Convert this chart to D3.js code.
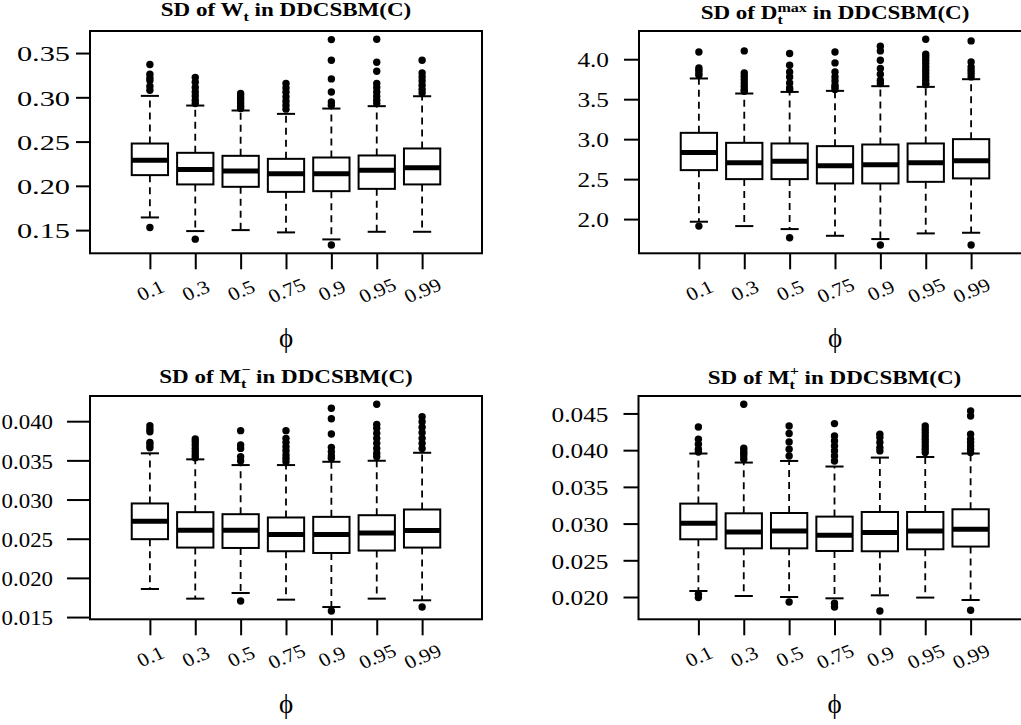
<!DOCTYPE html>
<html><head><meta charset="utf-8">
<script src="https://cdn.jsdelivr.net/npm/d3@7/dist/d3.min.js"></script>
<style>body{margin:0;background:#fff}svg{display:block}</style>
</head><body>
<svg id="chart" width="1021" height="725"></svg>
<script>
// ---------------- data ----------------
const categories = ["0.1","0.3","0.5","0.75","0.9","0.95","0.99"];

// five-number boxes: [lower whisker, Q1, median, Q3, upper whisker]
const wtStats = [
  [0.1643,0.2121,0.2290,0.2478,0.3016],
  [0.1489,0.2016,0.2185,0.2373,0.2907],
  [0.1500,0.1989,0.2169,0.2339,0.2851],
  [0.1474,0.1932,0.2136,0.2305,0.2813],
  [0.1395,0.1940,0.2136,0.2320,0.2873],
  [0.1481,0.1966,0.2177,0.2343,0.2900],
  [0.1481,0.2016,0.2203,0.2422,0.3012]
];
const wtOutliers = [
  [0.153,0.308,0.3125,0.319,0.322,0.326,0.337],
  [0.1398,0.293,0.2967,0.3016,0.306,0.311,0.317,0.3223],
  [0.2873,0.290,0.293,0.296,0.2986,0.3016,0.3043],
  [0.2866,0.2911,0.2956,0.3005,0.3058,0.3106,0.3156],
  [0.1331,0.2911,0.2948,0.306,0.3208,0.3419,0.3652],
  [0.293,0.2967,0.3012,0.306,0.311,0.3156,0.3295,0.3396,0.3656],
  [0.305,0.3088,0.3137,0.3185,0.323,0.3275,0.3419]
];
const wtTicks = [0.15,0.20,0.25,0.30,0.35];

const dmaxStats = [
  [1.967,2.6125,2.834,3.079,3.759],
  [1.9125,2.500,2.704,2.954,3.571],
  [1.875,2.500,2.725,2.946,3.591],
  [1.791,2.446,2.666,2.9125,3.604],
  [1.750,2.446,2.679,2.933,3.6625],
  [1.821,2.466,2.704,2.946,3.654],
  [1.829,2.509,2.729,3.000,3.750]
];
const dmaxOutliers = [
  [1.9125,3.80,3.829,3.8625,3.891,4.091],
  [3.60,3.621,3.6625,3.704,3.746,3.7875,3.829,4.104],
  [1.766,3.62,3.641,3.704,3.779,3.841,3.925,4.071],
  [3.621,3.65,3.675,3.729,3.779,3.841,3.954,4.091],
  [1.675,3.696,3.7375,3.8125,3.884,3.9875,4.104,4.1625],
  [3.68,3.696,3.7375,3.779,3.821,3.8625,3.904,3.946,3.9875,4.029,4.0625,4.25],
  [1.675,3.779,3.821,3.8625,3.904,3.966,4.229]
];
const dmaxTicks = [2.0,2.5,3.0,3.5,4.0];

const mMinusStats = [
  [0.01858,0.02494,0.02724,0.02950,0.03590],
  [0.01735,0.02387,0.02609,0.02839,0.03513],
  [0.01807,0.02382,0.02609,0.02813,0.03440],
  [0.01722,0.02340,0.02554,0.02771,0.03440],
  [0.01628,0.02318,0.02554,0.02779,0.03482],
  [0.01735,0.02349,0.02574,0.02800,0.03495],
  [0.01714,0.02387,0.02605,0.02873,0.03597]
];
const mMinusOutliers = [
  [0.03661,0.03696,0.0373,0.03866,0.039,0.03943],
  [0.03533,0.03568,0.0361,0.03653,0.03696,0.03738,0.03772],
  [0.01705,0.03491,0.03546,0.03653,0.03696,0.03879],
  [0.03482,0.03526,0.03568,0.03623,0.03674,0.0373,0.03781,0.03879],
  [0.01577,0.03526,0.03555,0.0361,0.03666,0.03836,0.04032,0.04165],
  [0.03546,0.0359,0.03653,0.03717,0.03781,0.03845,0.03909,0.0396,0.04216],
  [0.01628,0.03653,0.03717,0.03781,0.03853,0.03922,0.03994,0.04058]
];
const mMinusTicks = [0.015,0.020,0.025,0.030,0.035,0.040];

const mPlusStats = [
  [0.02082,0.02786,0.03004,0.03272,0.03954],
  [0.02014,0.02663,0.02886,0.03140,0.03831],
  [0.02000,0.02663,0.02899,0.03144,0.03853],
  [0.01982,0.02627,0.02841,0.03095,0.03777],
  [0.02023,0.02623,0.02877,0.03158,0.03899],
  [0.01992,0.02650,0.02899,0.03158,0.03907],
  [0.01959,0.02687,0.02922,0.03195,0.03954]
];
const mPlusOutliers = [
  [0.01992,0.02037,0.03976,0.04012,0.0408,0.04149,0.04316],
  [0.03876,0.03921,0.03958,0.0399,0.04026,0.04625],
  [0.01932,0.03921,0.04012,0.04112,0.04226,0.0433],
  [0.01864,0.01914,0.03853,0.03921,0.0399,0.04057,0.04126,0.04193,0.04362],
  [0.01809,0.0399,0.04035,0.04104,0.04172,0.04217],
  [0.03967,0.04012,0.04057,0.04104,0.04149,0.04193,0.0424,0.04285,0.0433],
  [0.01819,0.03967,0.04012,0.04057,0.04104,0.04149,0.04217,0.04466,0.04534]
];
const mPlusTicks = [0.020,0.025,0.030,0.035,0.040,0.045];

// titles: [base, sub, sup]
const titles = [
  ["W","t",null],
  ["D","t","max"],
  ["M","t","\u2212"],
  ["M","t","+"]
];
const xLabel = "\u03D5";

// ---------------- layout ----------------
const FONT = "'Liberation Serif','Times New Roman',Times,serif";
const TSX = 1.28; // title horizontal stretch
const panels = [
  {stats:wtStats, out:wtOutliers, ticks:wtTicks, fmt:".2f", title:titles[0],
   left:90, right:482, top:31, bottom:253.3, tickLen:14, labGap:20, ysx:1.38, titleY:16, supDy:-14},
  {stats:dmaxStats, out:dmaxOutliers, ticks:dmaxTicks, fmt:".1f", title:titles[1],
   left:639, right:1031, top:31, bottom:253.3, tickLen:15, labGap:30, ysx:1.15, titleY:19, supDy:-12.5},
  {stats:mMinusStats, out:mMinusOutliers, ticks:mMinusTicks, fmt:".3f", title:titles[2],
   left:90, right:482, top:396, bottom:619.3, tickLen:23, labGap:37, ysx:1.04, titleY:383, supDy:-14},
  {stats:mPlusStats, out:mPlusOutliers, ticks:mPlusTicks, fmt:".3f", title:titles[3],
   left:638.5, right:1030.5, top:396, bottom:619.3, tickLen:15, labGap:30, ysx:1.15, titleY:384, supDy:-14}
];

const svg = d3.select("#chart");

panels.forEach(p => {
  const g = svg.append("g");
  // y domain like R: data range extended by 4%
  const all = p.stats.flat().concat(p.out.flat());
  const [mn, mx] = d3.extent(all);
  const ext = (mx - mn) * 0.04;
  const y = d3.scaleLinear().domain([mn - ext, mx + ext]).range([p.bottom, p.top]);
  const x = d3.scalePoint().domain(categories).range([p.left, p.right]).padding(1.32);
  const bw = x.step() * 0.8;

  categories.forEach((c, i) => {
    const [lo, q1, md, q3, hi] = p.stats[i];
    const cx = x(c);
    const bg = g.append("g");
    bg.append("line").attr("x1", cx).attr("x2", cx).attr("y1", y(q3)).attr("y2", y(hi))
      .attr("stroke", "#000").attr("stroke-width", 1.8).attr("stroke-dasharray", "7,5");
    bg.append("line").attr("x1", cx).attr("x2", cx).attr("y1", y(q1)).attr("y2", y(lo))
      .attr("stroke", "#000").attr("stroke-width", 1.8).attr("stroke-dasharray", "7,5");
    [lo, hi].forEach(v => {
      bg.append("line").attr("x1", cx - bw / 4).attr("x2", cx + bw / 4)
        .attr("y1", y(v)).attr("y2", y(v)).attr("stroke", "#000").attr("stroke-width", 2);
    });
    bg.append("rect").attr("x", cx - bw / 2).attr("width", bw)
      .attr("y", y(q3)).attr("height", y(q1) - y(q3))
      .attr("fill", "#fff").attr("stroke", "#000").attr("stroke-width", 2);
    bg.append("line").attr("x1", cx - bw / 2).attr("x2", cx + bw / 2)
      .attr("y1", y(md)).attr("y2", y(md)).attr("stroke", "#000").attr("stroke-width", 5);
    bg.selectAll("circle").data(p.out[i]).enter().append("circle")
      .attr("cx", cx).attr("cy", d => y(d)).attr("r", 3.7).attr("fill", "#000");
  });

  g.append("rect").attr("x", p.left).attr("y", p.top)
    .attr("width", p.right - p.left).attr("height", p.bottom - p.top)
    .attr("fill", "none").attr("stroke", "#000").attr("stroke-width", 2);

  // y axis
  const ya = g.append("g").attr("transform", `translate(${p.left},0)`)
    .call(d3.axisLeft(y).tickValues(p.ticks).tickFormat(d3.format(p.fmt))
      .tickSize(p.tickLen).tickSizeOuter(0));
  ya.select(".domain").remove();
  ya.selectAll(".tick line").attr("stroke", "#000").attr("stroke-width", 2);
  ya.selectAll(".tick text")
    .attr("x", 0).attr("y", 0)
    .attr("transform", `translate(${-p.labGap},0) scale(${p.ysx},1)`)
    .attr("dy", "0.35em")
    .attr("text-anchor", "end")
    .attr("font-family", FONT).attr("font-size", 22).attr("fill", "#000");

  // x axis
  const xa = g.append("g").attr("transform", `translate(0,${p.bottom})`)
    .call(d3.axisBottom(x).tickSize(16).tickSizeOuter(0));
  xa.select(".domain").remove();
  xa.selectAll(".tick line").attr("stroke", "#000").attr("stroke-width", 2);
  xa.selectAll(".tick text")
    .attr("x", 0).attr("y", 0).attr("dy", "0.35em")
    .attr("transform", `translate(0,37) scale(1.15,1) rotate(-25)`)
    .attr("text-anchor", "middle")
    .attr("font-family", FONT).attr("font-size", 19).attr("fill", "#000");

  // x label
  const cxm = (p.left + p.right) / 2;
  g.append("text").attr("transform", `translate(${cxm},${p.bottom + 94})`)
    .attr("text-anchor", "middle").attr("font-family", FONT).attr("font-size", 27)
    .text(xLabel);

  // title
  const [base, sub, sup] = p.title;
  const t = g.append("text").attr("transform", `translate(${cxm},${p.titleY}) scale(${TSX},1)`)
    .attr("text-anchor", "middle").attr("font-family", FONT).attr("font-size", 18)
    .attr("font-weight", "bold");
  t.append("tspan").text("SD of " + base);
  const subFs = 12.6;
  t.append("tspan").attr("font-size", subFs).attr("dy", 5).text(sub);
  let back = 5;
  if (sup) {
    const subW = 0.333 * subFs;
    t.append("tspan").attr("font-size", subFs).attr("dx", -subW).attr("dy", p.supDy).text(sup);
    back = 5 + p.supDy;
  }
  t.append("tspan").attr("dy", -back).text(" in DDCSBM(C)");
});
</script>
</body></html>
